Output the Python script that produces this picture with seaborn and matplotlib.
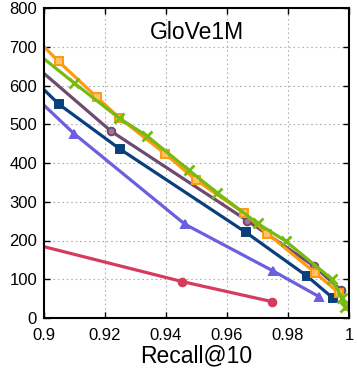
import matplotlib
matplotlib.use("Agg")
import matplotlib.pyplot as plt
import seaborn as sns
import pandas as pd

sns.set_theme(style="ticks")
plt.rcParams['font.family'] = ['Liberation Sans', 'DejaVu Sans']
plt.rcParams['text.color'] = 'black'
plt.rcParams['axes.labelcolor'] = 'black'

# Series data (recall@10, queries per second); first point of each is the line start at left edge (no marker)
orange_x = [0.9, 0.9048, 0.9173, 0.9246, 0.9397, 0.9497, 0.9657, 0.9732, 0.9889, 0.9968, 0.9996]
orange_y = [700, 662, 570, 517, 424, 357, 270, 218, 117, 64, 31]
green_x = [0.9, 0.9098, 0.9246, 0.9339, 0.9476, 0.9568, 0.9701, 0.9793, 0.9943, 0.9978, 0.9987]
green_y = [669, 607, 516, 469, 381, 323, 244, 198, 101, 51, 28]
purple_x = [0.9, 0.922, 0.9667, 0.9885, 0.9974]
purple_y = [631, 482, 251, 134, 72]
navy_x = [0.9, 0.905, 0.9249, 0.9662, 0.9861, 0.9948]
navy_y = [589, 551, 436, 221, 109, 51]
violet_x = [0.9, 0.9098, 0.9462, 0.9752, 0.9902]
violet_y = [549, 476, 242, 121, 55]
red_x = [0.9, 0.9453, 0.9749]
red_y = [184, 94, 42]

xticks = [0.9, 0.92, 0.94, 0.96, 0.98, 1.0]
xtick_labels = ["0.9", "0.92", "0.94", "0.96", "0.98", "1"]
yticks = [0, 100, 200, 300, 400, 500, 600, 700, 800]

series = [
    ("red", red_x, red_y, "#D63B5C", "o", "#D63B5C"),
    ("violet", violet_x, violet_y, "#6A5FE0", "^", "#6A5FE0"),
    ("navy", navy_x, navy_y, "#0A3F7E", "s", "#0A3F7E"),
    ("purple", purple_x, purple_y, "#6E4A6E", "o", "#9A7A98"),
    ("orange", orange_x, orange_y, "#FF9A10", "s", "#FFC46A"),
    ("green", green_x, green_y, "#77BB11", "x", "#77BB11"),
]

fig = plt.figure(figsize=(3.57, 3.71), dpi=100)
ax = fig.add_axes([44/357, 1 - 318/371, 305/357, 310/371])

for name, xs, ys, col, mk, fc in series:
    df = pd.DataFrame({"recall": xs, "qps": ys})
    sns.lineplot(data=df, x="recall", y="qps", ax=ax, color=col, linewidth=2.3,
                 marker=mk, markersize=5.5 if mk != "x" else 6.5,
                 markerfacecolor=fc, markeredgecolor=col,
                 markeredgewidth=1.4 if mk != "x" else 2.0,
                 markevery=list(range(1, len(xs))), sort=False, estimator=None,
                 clip_on=True)

ax.set_xlim(0.9, 1.0)
ax.set_ylim(0, 800)
ax.set_xticks(xticks)
ax.set_xticklabels(xtick_labels)
ax.set_yticks(yticks)
ax.grid(True, color="#b0b0b0", linestyle=(0, (1.5, 2.5)), linewidth=0.8)
ax.tick_params(direction="in", length=4, width=1, top=True, right=True,
               labelsize=12, colors="black")
ax.tick_params(axis="x", pad=7)
ax.tick_params(axis="y", pad=5)
for s in ax.spines.values():
    s.set_linewidth(1.5)
    s.set_color("black")
ax.set_xlabel("Recall@10", fontsize=16.5, labelpad=1, color="black")
ax.set_ylabel("")
ax.text(0.5, 0.92, "GloVe1M", transform=ax.transAxes, ha="center", va="center",
        fontsize=16.5, color="black")
if ax.get_legend():
    ax.get_legend().remove()

fig.savefig("out.png", dpi=100)
